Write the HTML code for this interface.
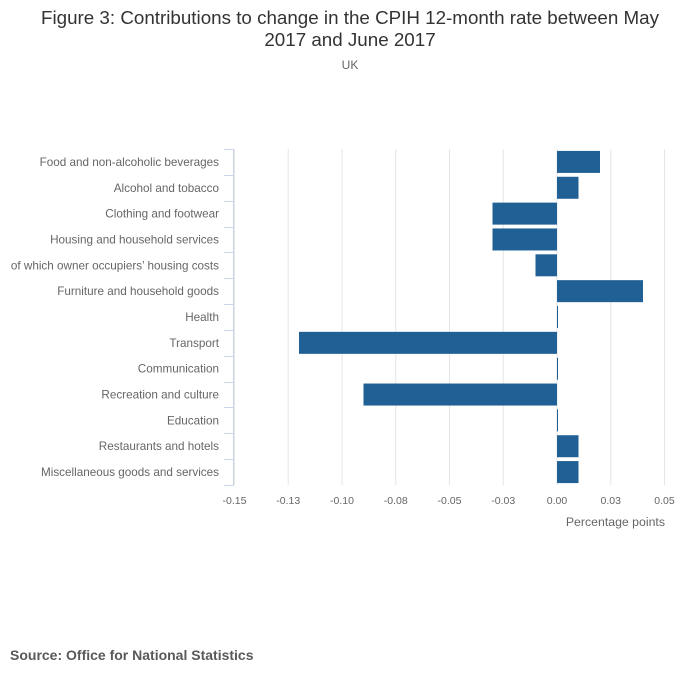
<!DOCTYPE html>
<html><head><meta charset="utf-8"><style>
body{margin:0;background:#fff;font-family:"Liberation Sans",sans-serif;}
svg text{font-family:"Liberation Sans",sans-serif;}
</style></head><body>
<svg id="c" width="700" height="682">
<text x="350" y="24" text-anchor="middle" font-size="18.8" fill="#333">Figure 3: Contributions to change in the CPIH 12-month rate between May</text>
<text x="350" y="46" text-anchor="middle" font-size="18.8" fill="#333">2017 and June 2017</text>
<text x="350" y="69" text-anchor="middle" font-size="12" fill="#666">UK</text>
<text x="10" y="660" font-size="14" font-weight="bold" fill="#595959">Source: Office for National Statistics</text>
<text x="665" y="526" text-anchor="end" font-size="12.3" fill="#666">Percentage points</text>
<g id="g"></g>
</svg>
<script>
const categories=["Food and non-alcoholic beverages","Alcohol and tobacco","Clothing and footwear","Housing and household services","of which owner occupiers’ housing costs","Furniture and household goods","Health","Transport","Communication","Recreation and culture","Education","Restaurants and hotels","Miscellaneous goods and services"];
const values=[0.02,0.01,-0.03,-0.03,-0.01,0.04,0.0003,-0.12,0.0003,-0.09,0.0003,0.01,0.01];
const tickValues=[-0.15,-0.125,-0.1,-0.075,-0.05,-0.025,0,0.025,0.05];
const tickLabels=["-0.15","-0.13","-0.10","-0.08","-0.05","-0.03","0.00","0.03","0.05"];
const NS="http://www.w3.org/2000/svg",g=document.getElementById('g');
const x0=234.5,x1=664.5,yTop=149,yBot=485,rowH=(yBot-yTop)/categories.length;
const xs=v=>x0+(v+0.15)/0.2*(x1-x0);
function mk(t,a){const e=document.createElementNS(NS,t);for(const k in a)e.setAttribute(k,a[k]);g.appendChild(e);return e;}
tickValues.forEach((v,i)=>{
 const l=mk('line',{x1:xs(v),x2:xs(v),y1:yTop,y2:yBot,stroke:'#e6e6e6'});
 
 
 const t=mk('text',{x:xs(v),y:504,'text-anchor':'middle','font-size':10.5,fill:'#666'});
 t.textContent=tickLabels[i];
 
 
});
const ax=mk('line',{x1:233.5,x2:233.5,y1:yTop,y2:yBot,stroke:'#ccd6eb'});


for(let i=0;i<=categories.length;i++){
 const y=Math.round(yTop+i*rowH)+0.5;
 const tk=mk('line',{x1:224,x2:234,y1:y,y2:y,stroke:'#ccd6eb'});
 
 
}
categories.forEach((c,i)=>{
 const cy=yTop+(i+0.5)*rowH;
 const t=mk('text',{x:219,y:cy+4,'text-anchor':'end','font-size':11.7,fill:'#666'});
 t.textContent=c;
 
 
 const v=values[i],a=xs(Math.min(0,v)),b=xs(Math.max(0,v));
 const r=mk('rect',{x:a,y:cy-11,width:Math.max(1,b-a),height:22,fill:'#206095'});
 
 
});
</script>
</body></html>
